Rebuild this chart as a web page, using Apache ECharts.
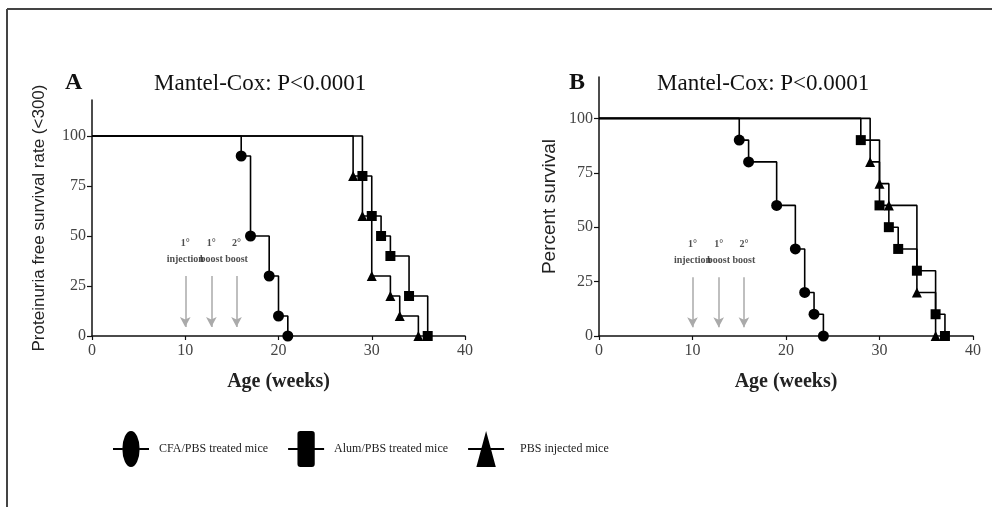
<!DOCTYPE html>
<html>
<head>
<meta charset="utf-8">
<script src="https://cdn.jsdelivr.net/npm/echarts@6/dist/echarts.min.js"></script>
<style>
    html, body { margin: 0; padding: 0; background: #fff; }
    #chart { width: 992px; height: 507px; }
</style>
</head>
<body>
<div id="chart"></div>
<script>
// Panel A: proteinuria free survival (time in weeks, value in %)
const cfaATimes = [0, 16, 17, 19, 20, 21];
const cfaAValues = [100, 90, 50, 30, 10, 0];
const alumATimes = [0, 29, 30, 31, 32, 34, 36];
const alumAValues = [100, 80, 60, 50, 40, 20, 0];
const pbsATimes = [0, 28, 29, 30, 32, 33, 35];
const pbsAValues = [100, 80, 60, 30, 20, 10, 0];

// Panel B: percent survival
const cfaBTimes = [0, 15, 16, 19, 21, 22, 23, 24];
const cfaBValues = [100, 90, 80, 60, 40, 20, 10, 0];
const alumBTimes = [0, 28, 30, 31, 32, 34, 36, 37];
const alumBValues = [100, 90, 60, 50, 40, 30, 10, 0];
const pbsBTimes = [0, 29, 30, 31, 34, 36];
const pbsBValues = [100, 80, 70, 60, 20, 0];

// injection / boost annotations
const arrowWeeks = [10, 12.8, 15.5];
const arrowLabels = ['1°\ninjection', '1°\nboost', '2°\nboost'];
const arrowTopA = 30, arrowBottomA = 4.5, labelYA = 42.5;
const arrowTopB = 27, arrowBottomB = 4, labelYB = 38.5;

const yTicks = [0, 25, 50, 75, 100];

const seriesNames = ['CFA/PBS treated mice', 'Alum/PBS treated mice', 'PBS injected mice'];

const serif = '"Liberation Serif", "DejaVu Serif", serif';
const sans = '"Liberation Sans", Arial, sans-serif';

// legend icons: line through a tall marker
const iconCircle = 'path://M0,47L26,47L26,53L0,53Z M74,47L100,47L100,53L74,53Z ' +
    'M26,50A24,50 0 1 1 74,50A24,50 0 1 1 26,50Z';
const iconSquare = 'path://M0,47L26,47L26,53L0,53Z M74,47L100,47L100,53L74,53Z ' +
    'M34,0L66,0Q74,0 74,8L74,92Q74,100 66,100L34,100Q26,100 26,92L26,8Q26,0 34,0Z';
const iconTriangle = 'path://M0,47L37,47L37,53L0,53Z M63,47L100,47L100,53L63,53Z ' +
    'M50,0L77,100L23,100Z';

function kmSeries(name, grid, times, values, symbol, size) {
    return {
        name: name,
        type: 'line',
        xAxisIndex: grid,
        yAxisIndex: grid,
        step: 'end',
        symbol: symbol,
        symbolSize: size,
        showAllSymbol: true,
        color: '#000',
        lineStyle: { color: '#000', width: 1.6 },
        itemStyle: { color: '#000' },
        data: times.map((t, i) =>
            i === 0 ? { value: [t, values[i]], symbol: 'none' } : [t, values[i]]
        ),
        z: 3,
    };
}

function annotationSeries(grid, labelY, top, bottom) {
    return {
        type: 'scatter',
        xAxisIndex: grid,
        yAxisIndex: grid,
        symbolSize: 0,
        silent: true,
        data: arrowWeeks.map((w, i) => ({ value: [w, labelY], name: arrowLabels[i] })),
        label: {
            show: true,
            position: 'inside',
            formatter: (p) => p.name,
            fontFamily: serif,
            fontSize: 10,
            fontWeight: 'bold',
            lineHeight: 16,
            color: '#222',
        },
        markLine: {
            silent: true,
            symbol: ['none', 'arrow'],
            symbolSize: [8, 10],
            label: { show: false },
            lineStyle: { color: '#aaa', width: 1.5, type: 'solid' },
            data: arrowWeeks.map((w) => [{ coord: [w, top] }, { coord: [w, bottom] }]),
        },
        z: 2,
    };
}

function xAxisOf(grid) {
    return {
        gridIndex: grid,
        type: 'value',
        min: 0,
        max: 40,
        interval: 10,
        name: 'Age (weeks)',
        nameLocation: 'middle',
        nameGap: 36,
        nameTextStyle: { fontFamily: serif, fontSize: 20, fontWeight: 'bold', color: '#222' },
        axisLine: { lineStyle: { color: '#111', width: 1.5 } },
        axisTick: { length: 4, lineStyle: { color: '#111', width: 1.2 } },
        axisLabel: { fontFamily: serif, fontSize: 16, color: '#444', margin: 7 },
        splitLine: { show: false },
    };
}

function yAxisOf(grid, max, name, nameGap, nameSize) {
    return {
        gridIndex: grid,
        type: 'value',
        min: 0,
        max: max,
        name: name,
        nameLocation: 'middle',
        nameGap: nameGap,
        nameTextStyle: { fontFamily: sans, fontSize: nameSize, color: '#222' },
        axisLine: { show: true, lineStyle: { color: '#111', width: 1.5 } },
        axisTick: { show: true, length: 5, customValues: yTicks, lineStyle: { color: '#111', width: 1.2 } },
        axisLabel: { customValues: yTicks, fontFamily: serif, fontSize: 16, color: '#444', margin: 6 },
        splitLine: { show: false },
    };
}

const chart = echarts.init(document.getElementById('chart'));
const option = {
    animation: false,
    backgroundColor: '#fff',
    title: [
        { text: 'A', left: 60, top: 66, textStyle: { fontFamily: serif, fontSize: 24, fontWeight: 'bold', color: '#111' } },
        { text: 'Mantel-Cox: P<0.0001', left: 149, top: 67, textStyle: { fontFamily: serif, fontSize: 23, fontWeight: 'normal', color: '#111' } },
        { text: 'B', left: 564, top: 66, textStyle: { fontFamily: serif, fontSize: 24, fontWeight: 'bold', color: '#111' } },
        { text: 'Mantel-Cox: P<0.0001', left: 652, top: 67, textStyle: { fontFamily: serif, fontSize: 23, fontWeight: 'normal', color: '#111' } },
    ],
    legend: {
        left: 108,
        top: 426,
        itemWidth: 46,
        itemHeight: 36,
        itemGap: 20,
        textStyle: { fontFamily: serif, fontSize: 12, color: '#222' },
        data: [
            { name: seriesNames[0], icon: iconCircle },
            { name: seriesNames[1], icon: iconSquare },
            { name: seriesNames[2], icon: iconTriangle, textStyle: { padding: [0, 0, 0, 6] } },
        ],
    },
    grid: [
        { left: 92, right: 527, top: 100, bottom: 171 },
        { left: 599, right: 19, top: 77, bottom: 171 },
    ],
    xAxis: [xAxisOf(0), xAxisOf(1)],
    yAxis: [
        yAxisOf(0, 118, 'Proteinuria free survival rate (<300)', 44, 17),
        yAxisOf(1, 119, 'Percent survival', 40, 19),
    ],
    graphic: [
        { type: 'line', shape: { x1: 7, y1: 9, x2: 7, y2: 507 }, style: { stroke: '#444', lineWidth: 2 } },
        { type: 'line', shape: { x1: 7, y1: 9, x2: 992, y2: 9 }, style: { stroke: '#444', lineWidth: 2 } },
    ],
    series: [
        annotationSeries(0, labelYA, arrowTopA, arrowBottomA),
        annotationSeries(1, labelYB, arrowTopB, arrowBottomB),
        kmSeries(seriesNames[0], 0, cfaATimes, cfaAValues, 'circle', 11),
        kmSeries(seriesNames[1], 0, alumATimes, alumAValues, 'rect', 10),
        kmSeries(seriesNames[2], 0, pbsATimes, pbsAValues, 'triangle', 10),
        kmSeries(seriesNames[0], 1, cfaBTimes, cfaBValues, 'circle', 11),
        kmSeries(seriesNames[1], 1, alumBTimes, alumBValues, 'rect', 10),
        kmSeries(seriesNames[2], 1, pbsBTimes, pbsBValues, 'triangle', 10),
    ],
};
chart.setOption(option);
</script>
</body>
</html>
